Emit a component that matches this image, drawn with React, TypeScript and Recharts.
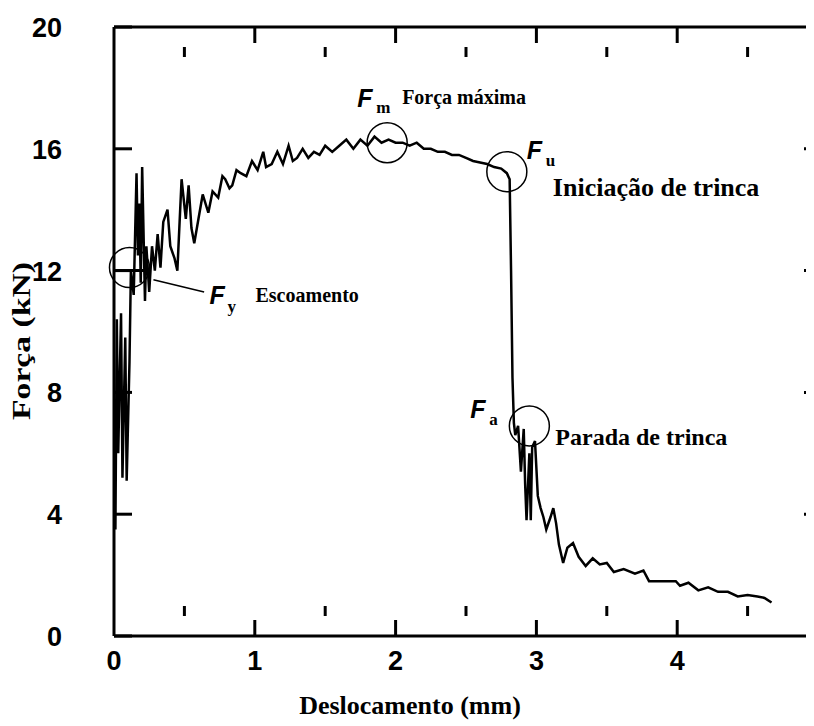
import { LineChart, Line, XAxis, YAxis, ReferenceDot, ReferenceLine } from "recharts";

// Curva força x deslocamento, lida ponto a ponto da figura original
const yieldPhase: [number, number][] = [
  [0.01, 3.5], [0.02, 10.4], [0.03, 6.0], [0.05, 10.6], [0.06, 5.2], [0.08, 9.8],
  [0.09, 5.1], [0.11, 9.0], [0.12, 12.0], [0.14, 11.2], [0.16, 15.2], [0.17, 12.5],
  [0.18, 14.2], [0.19, 11.6], [0.2, 15.4], [0.22, 11.0], [0.23, 12.8], [0.25, 11.3],
  [0.27, 12.8], [0.29, 12.0], [0.31, 13.2], [0.33, 12.1], [0.35, 13.6], [0.38, 14.0],
  [0.4, 12.8], [0.43, 12.4], [0.45, 12.0], [0.48, 15.0], [0.51, 13.7], [0.53, 14.8],
  [0.55, 13.4], [0.57, 12.9], [0.6, 13.7], [0.63, 14.5], [0.67, 13.9], [0.7, 14.6],
  [0.74, 14.4], [0.77, 15.1], [0.79, 15.0], [0.82, 14.7], [0.84, 14.8], [0.87, 15.3],
  [0.9, 15.2], [0.94, 15.1],
];

const hardeningPhase: [number, number][] = [
  [0.98, 15.6], [1.02, 15.3], [1.06, 15.9], [1.08, 15.4], [1.12, 15.5], [1.16, 15.9],
  [1.2, 15.5], [1.24, 16.1], [1.27, 15.6], [1.3, 15.7], [1.34, 16.0], [1.38, 15.7],
  [1.42, 15.9], [1.46, 15.8], [1.5, 16.1], [1.55, 15.9], [1.6, 16.1], [1.65, 16.3],
  [1.7, 16.0], [1.75, 16.3], [1.8, 16.1], [1.85, 16.4], [1.9, 16.2], [1.95, 16.3],
  [2.0, 16.2], [2.05, 16.2], [2.1, 16.1], [2.15, 16.2], [2.2, 16.0], [2.25, 16.0],
  [2.3, 15.9], [2.35, 15.9], [2.4, 15.8], [2.45, 15.8], [2.5, 15.7], [2.55, 15.6],
  [2.6, 15.55], [2.65, 15.5], [2.7, 15.4], [2.75, 15.35], [2.79, 15.2],
];

const fracturePhase: [number, number][] = [
  [2.81, 15.0], [2.82, 12.0], [2.83, 8.5], [2.84, 7.0], [2.85, 6.6], [2.87, 6.9],
  [2.89, 5.4], [2.91, 6.8], [2.92, 5.0], [2.93, 3.8], [2.95, 6.0], [2.96, 3.8],
  [2.97, 6.2], [2.99, 6.4], [3.01, 4.6], [3.03, 4.2], [3.05, 3.9], [3.07, 3.5],
  [3.1, 3.9], [3.12, 4.2], [3.14, 3.7], [3.16, 3.0], [3.19, 2.4], [3.22, 2.9],
  [3.26, 3.05], [3.3, 2.6], [3.35, 2.3], [3.4, 2.55], [3.45, 2.35], [3.5, 2.4],
  [3.55, 2.1], [3.62, 2.2], [3.7, 2.05], [3.76, 2.15], [3.8, 1.8], [3.9, 1.8],
  [3.99, 1.8], [4.02, 1.65], [4.08, 1.75], [4.15, 1.5], [4.22, 1.6], [4.29, 1.45],
  [4.36, 1.45], [4.43, 1.3], [4.5, 1.35], [4.57, 1.3], [4.62, 1.25], [4.67, 1.1],
];

const xTicks = [0, 1, 2, 3, 4, 5];
const xMajorMarks = [1, 2, 3, 4];
const xMinorMarks = [0.5, 1.5, 2.5, 3.5, 4.5];
const yTicks = [0, 4, 8, 12, 16, 20];
const yMarks = [4, 8, 12, 16];

// pontos característicos
const markerX = [0.11, 1.94, 2.79, 2.95];
const markerY = [12.1, 16.2, 15.25, 6.9];
const markerSub = ["y", "m", "u", "a"];
const markerText = ["Escoamento", "Força máxima", "Iniciação de trinca", "Parada de trinca"];

const data = [...yieldPhase, ...hardeningPhase, ...fracturePhase].map(([disp, force]) => ({ disp, force }));

const serif = "'Liberation Serif', 'Times New Roman', serif";
const sans = "'Liberation Sans', Arial, sans-serif";

// deslocamentos dos rótulos em relação ao centro do círculo (px)
const labelOffsets = [
  { f: [80, 36], s: [98, 44], t: [126, 34], size: 20 },
  { f: [-30, -36], s: [-11, -30], t: [15, -39], size: 20 },
  { f: [20, -13], s: [39, -6], t: [46, 24], size: 26 },
  { f: [-59, -8], s: [-40, -1], t: [26, 19], size: 24 },
];

const BottomTick = ({ x, y, payload }: any) => (
  <text x={x} y={y + 34} textAnchor="middle" fontFamily={sans} fontWeight="bold" fontSize={27} fill="#000">
    {payload.value}
  </text>
);

// o tickSize negativo desloca x 18 px para dentro; compensa aqui
const LeftTick = ({ x, y, payload }: any) => (
  <text x={x - 70} y={y + 10} textAnchor="end" fontFamily={sans} fontWeight="bold" fontSize={27} fill="#000">
    {payload.value}
  </text>
);

// marca sem rótulo (só o traço do tickLine)
const NoLabel = () => <g />;

const Marker = (idx: number) => (props: any) => {
  const { cx, cy } = props;
  const o = labelOffsets[idx];
  return (
    <g>
      <circle cx={cx} cy={cy} r={20} fill="none" stroke="#000" strokeWidth={1.5} />
      <text x={cx + o.f[0]} y={cy + o.f[1]} fontFamily={sans} fontStyle="italic" fontWeight="bold" fontSize={25} fill="#000">
        F
      </text>
      <text x={cx + o.s[0]} y={cy + o.s[1]} fontFamily={serif} fontWeight="bold" fontSize={17} fill="#000">
        {markerSub[idx]}
      </text>
      <text x={cx + o.t[0]} y={cy + o.t[1]} fontFamily={serif} fontWeight="bold" fontSize={o.size} fill="#000">
        {markerText[idx]}
      </text>
    </g>
  );
};

const frame = { stroke: "#000", strokeWidth: 3 };
const tickStroke = { stroke: "#000", strokeWidth: 3 };

// eixos auxiliares só para as marcas internas da moldura
const markX = { dataKey: "disp", type: "number" as const, domain: [0, 5], allowDataOverflow: true, interval: 0, mirror: true, height: 20, tick: <NoLabel />, tickLine: tickStroke, stroke: "#000", strokeWidth: 3 };
const markY = { dataKey: "force", type: "number" as const, domain: [0, 20], allowDataOverflow: true, interval: 0, mirror: true, width: 20, tick: <NoLabel />, tickLine: tickStroke, stroke: "#000", strokeWidth: 3 };

export default function App() {
  return (
    <div style={{ width: 806, height: 718, overflow: "hidden", background: "#fff" }}>
      <LineChart width={830} height={718} data={data} margin={{ top: 19, right: 20, bottom: 0, left: 0 }}>
        <XAxis
          dataKey="disp"
          type="number"
          domain={[0, 5]}
          ticks={xTicks}
          interval={0}
          height={90}
          tickSize={0}
          tickMargin={0}
          tickLine={false}
          tick={<BottomTick />}
          axisLine={frame}
          label={{
            content: ({ viewBox }: any) => (
              <text x={viewBox.x + 296} y={viewBox.y + 78} textAnchor="middle" fontFamily={serif} fontWeight="bold" fontSize={26} fill="#000">
                Deslocamento (mm)
              </text>
            ),
          }}
        />
        {/* marcas internas: base */}
        <XAxis xAxisId="bMaj" {...markX} ticks={xMajorMarks} tickSize={16} axisLine={false} />
        <XAxis xAxisId="bMin" {...markX} ticks={xMinorMarks} tickSize={10} axisLine={false} />
        {/* moldura superior */}
        <XAxis xAxisId="tMaj" orientation="top" {...markX} ticks={xMajorMarks} tickSize={16} axisLine={frame} />
        <XAxis xAxisId="tMin" orientation="top" {...markX} ticks={xMinorMarks} tickSize={10} axisLine={false} />
        <YAxis
          type="number"
          domain={[0, 20]}
          ticks={yTicks}
          interval={0}
          width={106}
          tickSize={-18}
          tickMargin={0}
          tickLine={tickStroke}
          stroke="#000"
          strokeWidth={3}
          tick={<LeftTick />}
          axisLine={frame}
          label={{
            content: ({ viewBox }: any) => {
              const cy = viewBox.y + 314;
              return (
                <text x={13} y={cy} transform={`rotate(-90 13 ${cy})`} textAnchor="middle" dominantBaseline="central" textLength={158} lengthAdjust="spacingAndGlyphs" fontFamily={serif} fontWeight="bold" fontSize={25} fill="#000">
                  Força (kN)
                </text>
              );
            },
          }}
        />
        <YAxis yAxisId="right" orientation="right" {...markY} ticks={yMarks} tickSize={14} axisLine={frame} />
        <ReferenceLine segment={[{ x: 0, y: 12.0 }, { x: 0.26, y: 12.0 }]} stroke="#000" strokeWidth={3} />
        <ReferenceLine segment={[{ x: 0.28, y: 11.7 }, { x: 0.64, y: 11.3 }]} stroke="#000" strokeWidth={1.5} />
        <Line
          type="linear"
          dataKey="force"
          stroke="#000"
          strokeWidth={2.5}
          dot={false}
          isAnimationActive={false}
        />
        {markerX.map((mx, i) => (
          <ReferenceDot key={i} x={mx} y={markerY[i]} r={20} shape={Marker(i)} />
        ))}
      </LineChart>
    </div>
  );
}
